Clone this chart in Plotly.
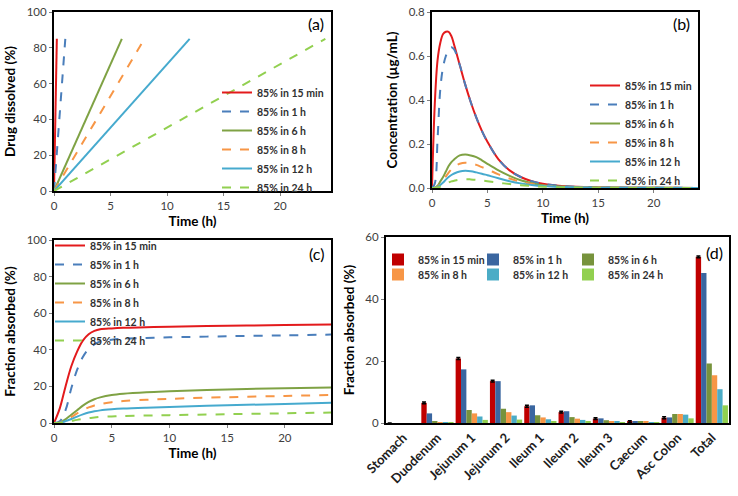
import plotly.graph_objects as go

# ---------------- data ----------------
series_names = ["85% in 15 min", "85% in 1 h", "85% in 6 h", "85% in 8 h", "85% in 12 h", "85% in 24 h"]
line_colors = ["#E31A1C", "#4A7EBB", "#7FA244", "#F79646", "#46AACE", "#92D050"]
line_dash = ["solid", "dash", "solid", "dash", "solid", "dash"]
bar_colors = ["#C00000", "#3A66A0", "#77933C", "#F79646", "#4BACC6", "#92D050"]

# (a) dissolution: time to reach 85 % (h)
diss_end_time = [0.25, 1, 6, 8, 12, 24]
diss_start = [0, 0]   # (time, %)
diss_end_pct = 85

# (b) plasma concentration (ug/mL)
t_b = [0, 0.25, 0.5, 0.75, 1, 1.25, 1.5, 1.75, 2, 2.5, 3, 3.5, 4, 4.5, 5, 6, 7, 8, 9, 10, 12, 15, 20, 24]
conc = [
    [0, 0.38, 0.58, 0.66, 0.70, 0.71, 0.71, 0.69, 0.65, 0.56, 0.47, 0.39, 0.32, 0.26, 0.21, 0.13, 0.08, 0.05, 0.031, 0.019, 0.008, 0.003, 0.001, 0.0005],
    [0, 0.02, 0.22, 0.45, 0.55, 0.60, 0.63, 0.64, 0.63, 0.56, 0.47, 0.39, 0.32, 0.26, 0.21, 0.13, 0.08, 0.05, 0.031, 0.019, 0.008, 0.003, 0.001, 0.0005],
    [0, 0.002, 0.01, 0.03, 0.05, 0.075, 0.10, 0.118, 0.13, 0.148, 0.152, 0.148, 0.14, 0.126, 0.11, 0.08, 0.055, 0.035, 0.022, 0.013, 0.006, 0.002, 0.0008, 0.0005],
    [0, 0.001, 0.005, 0.02, 0.035, 0.053, 0.07, 0.085, 0.097, 0.11, 0.115, 0.112, 0.105, 0.095, 0.085, 0.062, 0.043, 0.028, 0.018, 0.011, 0.005, 0.002, 0.0008, 0.0005],
    [0, 0.001, 0.004, 0.014, 0.025, 0.038, 0.05, 0.059, 0.066, 0.075, 0.078, 0.076, 0.071, 0.065, 0.058, 0.044, 0.031, 0.021, 0.014, 0.009, 0.004, 0.0015, 0.0006, 0.0004],
    [0, 0.0005, 0.002, 0.006, 0.012, 0.018, 0.025, 0.03, 0.033, 0.038, 0.04, 0.039, 0.037, 0.034, 0.031, 0.024, 0.018, 0.013, 0.009, 0.006, 0.003, 0.001, 0.0004, 0.0003],
]

# (c) fraction absorbed (%)
t_c = [0, 0.5, 1, 1.5, 2, 2.5, 3, 3.5, 4, 5, 6, 8, 10, 15, 20, 24]
fa = [
    [0, 8, 20, 31, 39, 45, 48.5, 50.3, 51.2, 51.7, 52.0, 52.3, 52.6, 53.1, 53.5, 53.8],
    [0, 1, 7, 19, 29, 36, 40.5, 43, 44.5, 45.5, 46.0, 46.5, 46.8, 47.4, 47.9, 48.3],
    [0, 0.3, 2, 4.5, 7, 9.5, 11.5, 13, 14, 15.3, 16, 16.8, 17.3, 18.3, 19.0, 19.4],
    [0, 0.2, 1.4, 3.2, 5.3, 7, 8.5, 9.6, 10.3, 11.4, 12, 12.7, 13.2, 14.1, 14.8, 15.3],
    [0, 0.15, 1, 2.2, 3.5, 4.7, 5.7, 6.4, 6.9, 7.5, 7.9, 8.4, 8.8, 9.7, 10.4, 11.0],
    [0, 0.05, 0.5, 1.1, 1.7, 2.2, 2.7, 3.0, 3.3, 3.6, 3.8, 4.1, 4.3, 4.8, 5.3, 5.7],
]

# (d) regional fraction absorbed (%)
regions = ["Stomach", "Duodenum", "Jejunum 1", "Jejunum 2", "Ileum 1", "Ileum 2", "Ileum 3", "Caecum", "Asc Colon", "Total"]
regional = [
    [0, 6.5, 20.8, 13.5, 5.4, 3.5, 1.4, 0.4, 1.7, 53.6],
    [0, 3.1, 17.3, 13.5, 5.7, 3.8, 1.5, 0.4, 1.8, 48.4],
    [0, 0.4, 4.2, 4.6, 2.5, 1.9, 0.9, 0.4, 2.9, 19.2],
    [0, 0.3, 3.1, 3.5, 1.8, 1.4, 0.5, 0.4, 2.9, 15.4],
    [0, 0.2, 2.1, 2.4, 1.2, 1.0, 0.4, 0.3, 2.7, 10.9],
    [0, 0.1, 1.0, 1.1, 0.5, 0.4, 0.2, 0.2, 1.5, 5.7],
]
red_err = [0, 0.3, 0.3, 0.3, 0.3, 0.3, 0.3, 0.3, 0.3, 0.3]

# ---------------- figure ----------------
W, H = 738, 496

def fx(p):
    return p / W
def fy(p):
    return 1 - p / H
def px_x(a, b):
    return [fx(a), fx(b)]
def px_y(top, bottom):
    return [fy(bottom), fy(top)]

fig = go.Figure()
FONT = "Lato"
TICKC = "#404040"

for i, name in enumerate(series_names):
    fig.add_trace(go.Scatter(
        x=[diss_start[0], diss_end_time[i]], y=[diss_start[1], diss_end_pct],
        mode="lines", name=name, line=dict(color=line_colors[i], dash=line_dash[i], width=2),
        xaxis="x", yaxis="y", legend="legend"))
for i, name in enumerate(series_names):
    fig.add_trace(go.Scatter(
        x=t_b, y=conc[i], mode="lines", name=name, line_shape="spline",
        line=dict(color=line_colors[i], dash=line_dash[i], width=2),
        xaxis="x2", yaxis="y2", legend="legend2"))
for i, name in enumerate(series_names):
    fig.add_trace(go.Scatter(
        x=t_c, y=fa[i], mode="lines", name=name, line_shape="spline",
        line=dict(color=line_colors[i], dash=line_dash[i], width=2),
        xaxis="x3", yaxis="y3", legend="legend3"))
for i, name in enumerate(series_names):
    kw = {}
    if i == 0:
        kw["error_y"] = dict(type="data", array=red_err, visible=True, color="black", thickness=1.5, width=2)
    fig.add_trace(go.Bar(
        x=regions, y=regional[i], name=name, marker=dict(color=bar_colors[i], line=dict(width=0)),
        xaxis="x4", yaxis="y4", legend="legend4" if i < 3 else "legend5", **kw))

tickfont = dict(family=FONT, size=11.5, color=TICKC)
titlefont = dict(family=FONT, size=13.5, color="black", weight="bold")
ax_common = dict(showline=True, linecolor="black", linewidth=2, mirror=True, ticks="outside", automargin=False,
                 ticklen=3, tickcolor="#808080", showgrid=False, zeroline=False, tickfont=tickfont)

legend_common = dict(bgcolor="rgba(0,0,0,0)", borderwidth=0,
                     font=dict(family=FONT, size=10.5, color="#303030", weight="bold"),
                     xanchor="left", yanchor="top", tracegroupgap=0, itemwidth=30)

fig.update_layout(
    width=W, height=H, margin=dict(l=0, r=0, t=0, b=0, autoexpand=False),
    paper_bgcolor="white", plot_bgcolor="white",
    barmode="group", bargap=0.06, bargroupgap=0,
    xaxis=dict(domain=px_x(54, 331), range=[0, 24.5], tickvals=[0, 5, 10, 15, 20], anchor="y",
               title=dict(text="Time (h)", font=titlefont, standoff=6), **ax_common),
    yaxis=dict(domain=px_y(12, 191), range=[0, 100], tickvals=[0, 20, 40, 60, 80, 100], anchor="x",
               title=dict(text="Drug dissolved (%)", font=titlefont, standoff=8), **ax_common),
    xaxis2=dict(domain=px_x(432, 698), range=[0, 24], tickvals=[0, 5, 10, 15, 20], anchor="y2",
                title=dict(text="Time (h)", font=titlefont, standoff=6), **ax_common),
    yaxis2=dict(domain=px_y(12, 188), range=[0, 0.8], tickvals=[0, 0.2, 0.4, 0.6, 0.8], tickformat=".1f", anchor="x2",
                title=dict(text="Concentration (µg/mL)", font=titlefont, standoff=8), **ax_common),
    xaxis3=dict(domain=px_x(54, 331), range=[0, 24], tickvals=[0, 5, 10, 15, 20], anchor="y3",
                title=dict(text="Time (h)", font=titlefont, standoff=6), **ax_common),
    yaxis3=dict(domain=px_y(240, 423), range=[0, 100], tickvals=[0, 20, 40, 60, 80, 100], anchor="x3",
                title=dict(text="Fraction absorbed (%)", font=titlefont, standoff=8), **ax_common),
    xaxis4=dict(domain=px_x(386, 729), anchor="y4", tickangle=-45, showline=True, linecolor="black", linewidth=2,
                mirror=True, ticks="", showgrid=False, zeroline=False, automargin=False,
                tickfont=dict(family=FONT, size=13, color="#202020", weight="bold")),
    yaxis4=dict(domain=px_y(237, 423), range=[0, 60], tickvals=[0, 20, 40, 60], anchor="x4",
                title=dict(text="Fraction absorbed (%)", font=titlefont, standoff=8), **ax_common),
    legend=dict(x=fx(217), y=fy(78), **legend_common),
    legend2=dict(x=fx(585), y=fy(71), **legend_common),
    legend3=dict(x=fx(50), y=fy(231), **legend_common),
    legend4=dict(x=fx(378), y=fy(245), orientation="h", entrywidth=50, entrywidthmode="pixels", **legend_common),
    legend5=dict(x=fx(378), y=fy(260), orientation="h", entrywidth=50, entrywidthmode="pixels", **legend_common),
    showlegend=True,
)

labels = [("(a)", 326, 24), ("(b)", 692, 24), ("(c)", 326, 253), ("(d)", 725, 252)]
for txt, x, y in labels:
    fig.add_annotation(text=txt, x=fx(x), y=fy(y), xref="paper", yref="paper", xanchor="right", yanchor="middle",
                       showarrow=False, font=dict(family=FONT, size=16, color="black"))

# remove the browser's default 8 px body margin so the figure fills the window exactly
fig.write_html("out.html", config={"displayModeBar": False},
               post_script="document.body.style.margin='0px';")
